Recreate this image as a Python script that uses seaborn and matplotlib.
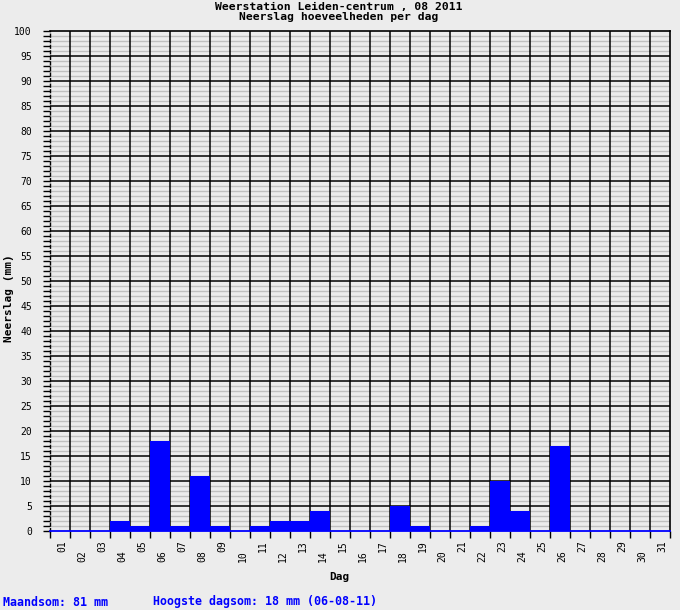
import numpy as np
import pandas as pd
import matplotlib
matplotlib.use("Agg")
import matplotlib.pyplot as plt
import seaborn as sns

days = list(range(1, 32))
day_labels = [f"{d:02d}" for d in days]
rain_mm = [0, 0, 0, 2, 1, 18, 1, 11, 1, 0, 1, 2, 2, 4, 0, 0, 0, 5, 1, 0,
           0, 1, 10, 4, 0, 17, 0, 0, 0, 0, 0]
title_lines = ["Weerstation Leiden-centrum , 08 2011", "Neerslag hoeveelheden per dag"]
x_title = "Dag"
y_title = "Neerslag (mm)"
footer_left = "Maandsom: 81 mm"
footer_right = "Hoogste dagsom: 18 mm (06-08-11)"

sns.set_style("white")
plt.rcParams['font.family'] = ['DejaVu Sans Mono']
plt.rcParams['text.color'] = 'black'
plt.rcParams['xtick.color'] = 'black'
plt.rcParams['ytick.color'] = 'black'
plt.rcParams['xtick.labelcolor'] = 'black'
plt.rcParams['ytick.labelcolor'] = 'black'

BG = "#ececec"
W, H = 680, 610
fig = plt.figure(figsize=(W / 100, H / 100), dpi=100, facecolor=BG)
ax = fig.add_axes([50 / W, (H - 531) / H, 620 / W, 500 / H], facecolor=BG)

df = pd.DataFrame({"day": days, "mm": rain_mm})
ax.set_axisbelow(True)
sns.barplot(data=df, x="day", y="mm", native_scale=True, width=1.0,
            color="#0000ff", saturation=1, linewidth=0, ax=ax, zorder=3)

ax.set_xlim(0.5, 31.5)
ax.set_ylim(0, 100)

# y ticks
ax.set_yticks(np.arange(0, 101, 5))
ax.set_yticks(np.arange(0, 101, 1), minor=True)
ax.tick_params(axis="y", which="major", length=5, width=1, color="black",
               labelsize=7, labelcolor="black", pad=8, direction="out", left=True)
ax.tick_params(axis="y", which="minor", length=5, width=1, color="black",
               direction="out", left=True)

# x ticks: day boundaries as major ticks, day labels as minor ticks
x_bounds = np.arange(0.5, 32, 1)
ax.set_xticks(x_bounds)
ax.set_xticklabels([])
ax.set_xticks(np.array(days) + 0.13, minor=True)
ax.set_xticklabels(day_labels, minor=True, rotation=90, fontsize=7, color="black")
ax.tick_params(axis="x", which="major", length=5, width=1, color="black",
               direction="out", bottom=True)
ax.tick_params(axis="x", which="minor", length=0, bottom=True)
for i, t in enumerate(ax.xaxis.get_minor_ticks()):
    t.set_pad(7 if i % 2 == 0 else 14)
    t.label1.set_verticalalignment("top")

# grid: gray minor horizontals below, black lines above them
ax.grid(which="minor", axis="y", color="#c0c0c0", linewidth=1.0)
ax.grid(False, which="major", axis="x")
ax.grid(False, which="major", axis="y")
ax.hlines(np.arange(5, 100, 5), 0.5, 31.5, color="black", linewidth=1.1, zorder=1)
ax.vlines(x_bounds[1:-1], 0, 100, color="black", linewidth=1.1, zorder=1)

for s in ["top", "right"]:
    ax.spines[s].set_color("black")
    ax.spines[s].set_linewidth(1.2)
ax.spines["left"].set_color("black")
ax.spines["left"].set_linewidth(1.0)
ax.spines["left"].set_linestyle((0, (2, 2)))
ax.spines["bottom"].set_color("#0000ff")
ax.spines["bottom"].set_linewidth(1.3)
ax.spines["bottom"].set_zorder(5)

ax.set_xlabel("")
ax.set_ylabel("")
fig.text(339 / W, 1 - 577 / H, x_title, ha="center", va="center",
         fontsize=8, fontweight="bold", color="black")
fig.text(9 / W, 1 - 298 / H, y_title, ha="center", va="center",
         rotation=90, fontsize=8, fontweight="bold", color="black")

fig.text(339 / W, 1 - 12 / H, "\n".join(title_lines), ha="center", va="center",
         fontsize=8.2, fontweight="bold", linespacing=0.88, multialignment="center",
         color="black")
fig.text(3 / W, 1 - 602 / H, footer_left, ha="left", va="center",
         fontsize=8.4, fontweight="bold", color="#0000ff")
fig.text(153 / W, 1 - 602 / H, footer_right, ha="left", va="center",
         fontsize=8.4, fontweight="bold", color="#0000ff")

fig.savefig("out.png", dpi=100, facecolor=BG)
